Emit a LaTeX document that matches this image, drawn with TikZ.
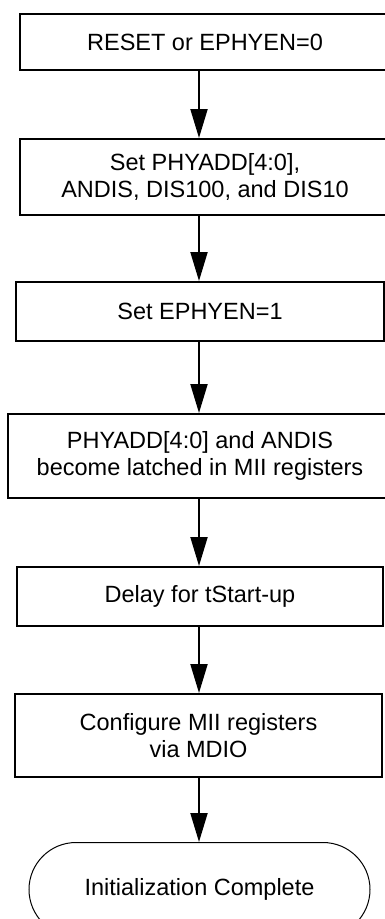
\documentclass[tikz,border=0pt]{standalone}
\usepackage{fontspec}
\setmainfont{Liberation Sans}
\usepackage{tikz}
\usetikzlibrary{shapes.misc,arrows.meta,positioning}

\begin{document}
\begin{tikzpicture}[
    x=1pt, y=-1pt,
    box/.style={rectangle, draw=black, line width=2pt, align=center, inner sep=0pt, font=\fontsize{23.5}{27}\selectfont},
    term/.style={rounded rectangle, draw=black, line width=1pt, align=center, inner sep=0pt, minimum width=341pt, minimum height=94pt, font=\fontsize{23.5}{27}\selectfont},
    arrow/.style={-{Triangle[length=29pt, width=17pt]}, line width=2pt, draw=black}
]
    \path[use as bounding box, clip] (0,0) rectangle (385,919);
    \coordinate (axis) at (199,0);

    \node [box, minimum width=370pt, minimum height=56pt] (reset) at (205,42) {RESET or EPHYEN=0};
    \node [box, minimum width=370pt, minimum height=76pt, below=67pt of reset] (setpins) {Set PHYADD[4:0],\\ANDIS, DIS100, and DIS10};
    \node [box, minimum width=368pt, minimum height=59pt, below=65pt of setpins, xshift=-5pt] (enable) {Set EPHYEN=1};
    \node [box, minimum width=384pt, minimum height=84pt, below=71pt of enable] (latch) {PHYADD[4:0] and ANDIS\\become latched in MII registers};
    \node [box, minimum width=366pt, minimum height=59pt, below=67pt of latch] (delay) {Delay for tStart-up};
    \node [box, minimum width=367pt, minimum height=83pt, below=66pt of delay, xshift=-1.5pt] (config) {Configure MII registers\\via MDIO};
    \node [term, below=64pt of config, xshift=1pt] (done) {Initialization Complete};

    \draw [arrow] (reset.south -| axis) -- (setpins.north -| axis);
    \draw [arrow] (setpins.south -| axis) -- (enable.north -| axis);
    \draw [arrow] (enable.south -| axis) -- (latch.north -| axis);
    \draw [arrow] (latch.south -| axis) -- (delay.north -| axis);
    \draw [arrow] (delay.south -| axis) -- (config.north -| axis);
    \draw [arrow] (config.south -| axis) -- (done.north -| axis);
\end{tikzpicture}
\end{document}
